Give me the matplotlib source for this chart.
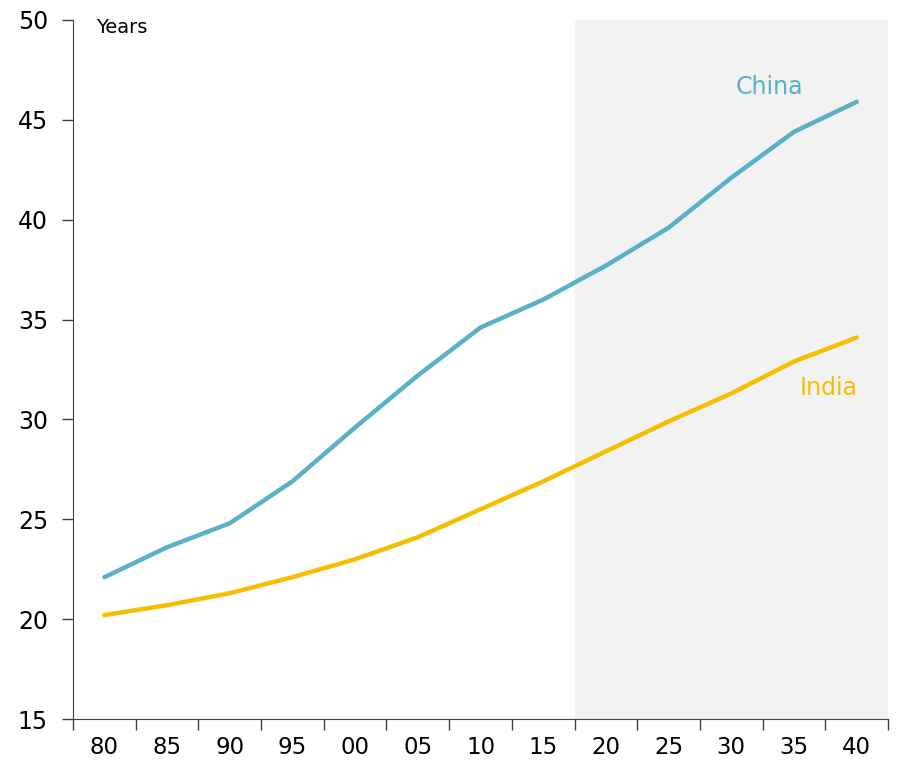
import numpy as np
import matplotlib.pyplot as plt

years = ['80', '85', '90', '95', '00', '05', '10', '15', '20', '25', '30', '35', '40']
china = [22.1, 23.6, 24.8, 26.9, 29.6, 32.2, 34.6, 36.0, 37.7, 39.6, 42.1, 44.4, 45.9]
india = [20.2, 20.7, 21.3, 22.1, 23.0, 24.1, 25.5, 26.9, 28.4, 29.9, 31.3, 32.9, 34.1]
forecast_start = '20'

plt.rcParams['font.family'] = ['DejaVu Sans']

fig = plt.figure(figsize=(8.97, 7.62), dpi=100)
ax = fig.add_axes([0.0814, 0.0564, 0.9086, 0.9174])

x = np.arange(len(years))
i0 = years.index(forecast_start)
ax.axvspan(i0 - 0.5, len(years) - 0.5, color='#f2f2f2', lw=0, zorder=0)

ax.plot(x, china, color='#5aafc9', lw=3.2, solid_capstyle='round', zorder=3)
ax.plot(x, india, color='#f5bf00', lw=3.2, solid_capstyle='round', zorder=3)

ax.text(10.6, 46.65, 'China', color='#5aafc9', fontsize=17, ha='center', va='center')
ax.text(11.55, 31.55, 'India', color='#f5bf00', fontsize=17, ha='center', va='center')
ax.text(-0.13, 49.6, 'Years', fontsize=14, ha='left', va='center')

ax.set_xlim(-0.5, len(years) - 0.5)
ax.set_ylim(15, 50)
ax.set_yticks(np.arange(15, 51, 5))
ax.set_xticks(np.arange(len(years) + 1) - 0.5)
ax.set_xticklabels([])
ax.set_xticks(x, minor=True)
ax.set_xticklabels(years, minor=True)
ax.tick_params(axis='x', which='major', length=8, width=1, color='#404040')
ax.tick_params(axis='x', which='minor', length=0, pad=12, labelsize=16.5)
ax.tick_params(axis='y', length=8, width=1, color='#404040', labelsize=17, pad=10)

for s in ['top', 'right']:
    ax.spines[s].set_visible(False)
for s in ['left', 'bottom']:
    ax.spines[s].set_color('#404040')

fig.savefig('out.png', dpi=100)
